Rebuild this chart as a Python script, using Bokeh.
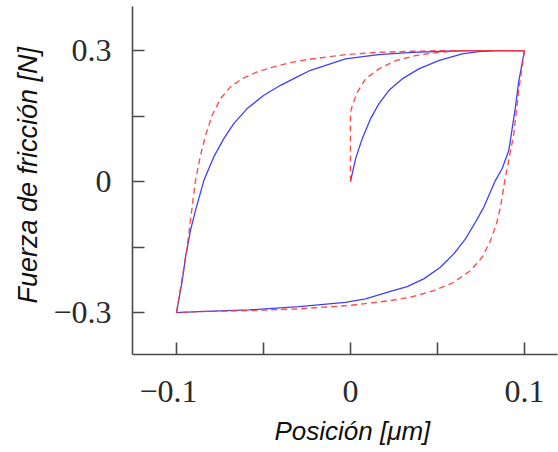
from bokeh.plotting import figure
from bokeh.models import Range1d, FixedTicker, Title
from bokeh.embed import file_html
from bokeh.resources import INLINE

# ---- data ----
blue_init_x = [0, 0.0029, 0.0067, 0.0115, 0.0163, 0.0220, 0.0297, 0.0393, 0.0507, 0.0642, 0.0737, 0.0833, 0.1]
blue_init_y = [0, 0.052, 0.0978, 0.1436, 0.1779, 0.2084, 0.2352, 0.2581, 0.2771, 0.2924, 0.2977, 0.3, 0.3]

blue_desc_x = [0.1, 0.0967, 0.0948, 0.0910, 0.0872, 0.0833, 0.0766, 0.0718, 0.0661, 0.0594, 0.0517, 0.0421, 0.0326, 0.0230, 0.0086, -0.0029, -0.0297, -0.0584, -0.0872, -0.1]
blue_desc_y = [0.3, 0.2290, 0.1701, 0.0710, 0.0300, 0.0023, -0.0589, -0.0932, -0.1312, -0.1656, -0.1962, -0.2228, -0.2404, -0.2512, -0.2686, -0.2764, -0.2862, -0.2938, -0.2977, -0.3]

blue_asc_x = [-0.1, -0.0967, -0.0948, -0.0920, -0.0891, -0.0843, -0.0786, -0.0728, -0.0671, -0.0594, -0.0498, -0.0402, -0.0306, -0.0230, -0.0029, 0.0161, 0.0355, 0.0546, 0.070, 0.1]
blue_asc_y = [-0.3, -0.2267, -0.1733, -0.1122, -0.0664, 0.0023, 0.0566, 0.0985, 0.1328, 0.1672, 0.1976, 0.2205, 0.2397, 0.2549, 0.2810, 0.2908, 0.2961, 0.2985, 0.300, 0.3]

red_init_x = [0, 0, 0.001, 0.0039, 0.0086, 0.0163, 0.0259, 0.0374, 0.0507, 0.0642, 0.1]
red_init_y = [0, 0.1587, 0.174, 0.2045, 0.2352, 0.2581, 0.2771, 0.2885, 0.2961, 0.300, 0.3]

red_desc_x = [0.1, 0.0967, 0.0939, 0.0887, 0.0862, 0.0839, 0.0805, 0.0757, 0.0690, 0.0594, 0.0479, 0.0345, 0.0230, -0.0010, -0.0297, -0.0584, -0.0872, -0.1]
red_desc_y = [0.3, 0.2084, 0.1092, 0.0023, -0.0589, -0.0969, -0.1351, -0.1733, -0.2038, -0.2306, -0.2496, -0.2649, -0.2725, -0.2839, -0.2915, -0.2954, -0.2977, -0.3]

red_asc_x = [-0.1, -0.0967, -0.0939, -0.0920, -0.0891, -0.0862, -0.0833, -0.0795, -0.0747, -0.0690, -0.0622, -0.0536, -0.0441, -0.0345, -0.0249, -0.0029, 0.0163, 0.0355, 0.0546, 0.1]
red_asc_y = [-0.3, -0.2191, -0.1504, -0.0893, 0.0023, 0.0602, 0.1060, 0.1518, 0.1901, 0.2169, 0.2359, 0.2512, 0.2627, 0.2725, 0.2794, 0.2908, 0.2961, 0.2984, 0.300, 0.3]

x_ticks = [-0.1, -0.05, 0, 0.05, 0.1]
x_tick_labels = {-0.1: "\u22120.1\u2002", -0.05: "", 0: "0", 0.05: "", 0.1: "0.1"}
y_ticks = [-0.3, -0.15, 0, 0.15, 0.3]
y_tick_labels = {-0.3: "\u22120.3", -0.15: "", 0: "0", 0.15: "", 0.3: "0.3"}

x_label = "Posición [μm]"
y_label = "Fuerza de fricción [N]"

# ---- figure ----
p = figure(width=558, height=452, output_backend="svg", toolbar_location=None,
           x_range=Range1d(-0.1253, 0.119), y_range=Range1d(-0.396, 0.401),
           min_border_left=132, min_border_right=1, min_border_top=6, min_border_bottom=98)
p.outline_line_color = None
p.xgrid.visible = False
p.ygrid.visible = False
p.background_fill_color = "white"
p.border_fill_color = "white"

blue = "#2a2aff"
red = "#ff3b3b"
for xs, ys in [(blue_init_x, blue_init_y), (blue_desc_x, blue_desc_y), (blue_asc_x, blue_asc_y)]:
    p.line(xs, ys, line_color=blue, line_width=1.3, line_alpha=0.9)
for xs, ys in [(red_init_x, red_init_y), (red_desc_x, red_desc_y), (red_asc_x, red_asc_y)]:
    p.line(xs, ys, line_color=red, line_width=1.4, line_alpha=0.9, line_dash="6 4")

for ax, ticks, labels, standoff in [(p.xaxis[0], x_ticks, x_tick_labels, 18), (p.yaxis[0], y_ticks, y_tick_labels, 21)]:
    ax.ticker = FixedTicker(ticks=ticks)
    ax.major_label_overrides = labels
    ax.minor_tick_line_color = None
    ax.major_tick_in = 12
    ax.major_tick_out = 0
    ax.axis_line_color = "#4a4a4a"
    ax.axis_line_width = 1.6
    ax.major_tick_line_color = "#4a4a4a"
    ax.major_tick_line_width = 1.6
    ax.major_label_text_font = "Liberation Serif"
    ax.major_label_text_font_size = "32px"
    ax.major_label_text_color = "#2a2a2a"
    ax.major_label_standoff = standoff
p.yaxis[0].major_label_orientation = "horizontal"

# axis titles
p.add_layout(Title(text=x_label, align="left", offset=142, vertical_align="bottom", standoff=4,
                   text_font="Liberation Sans", text_font_style="italic", text_font_size="26px",
                   text_color="#111111"), "below")
p.add_layout(Title(text=y_label, align="left", offset=51, vertical_align="middle", standoff=14,
                   text_font="Liberation Sans", text_font_style="italic", text_font_size="27px",
                   text_color="#111111"), "left")

open("out.html", "w").write(file_html(p, INLINE))
